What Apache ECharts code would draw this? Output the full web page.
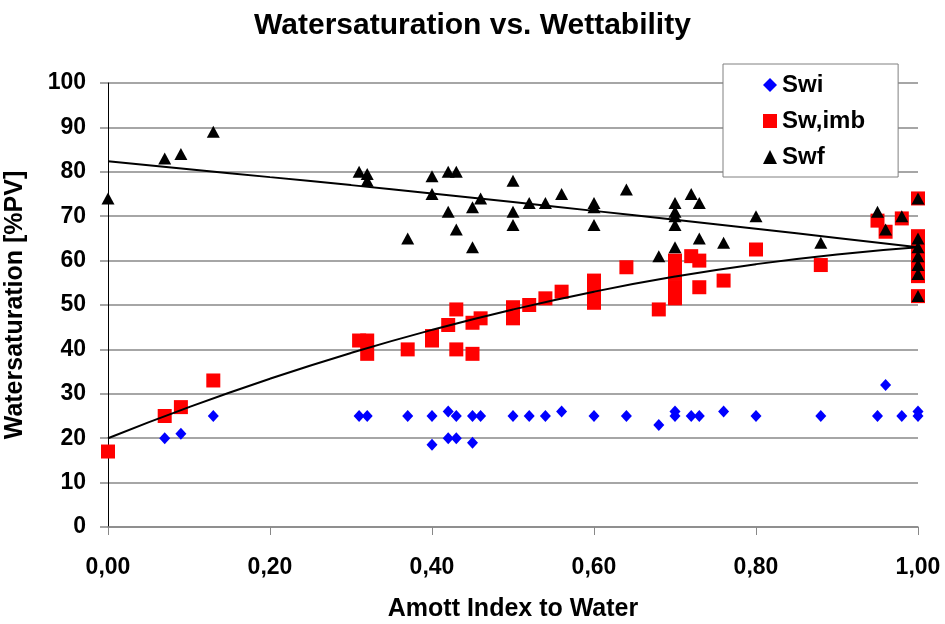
<!DOCTYPE html>
<html>
<head>
<meta charset="utf-8">
<script src="https://cdn.jsdelivr.net/npm/echarts@6/dist/echarts.min.js"></script>
<style>html,body{margin:0;padding:0;background:#fff;}#chart{width:945px;height:624px;}</style>
</head>
<body>
<div id="chart"></div>
<script>
// ---- data ----
var xTickLabels = ['0,00', '0,20', '0,40', '0,60', '0,80', '1,00'];
var yTickLabels = ['0', '10', '20', '30', '40', '50', '60', '70', '80', '90', '100'];

var swi = [[0.07,20],[0.09,21],[0.13,25],[0.31,25],[0.32,25],[0.37,25],[0.40,25],[0.40,18.5],[0.42,26],[0.43,25],[0.42,20],[0.43,20],[0.45,25],[0.45,19],[0.46,25],[0.50,25],[0.52,25],[0.54,25],[0.56,26],[0.60,25],[0.64,25],[0.68,23],[0.70,26],[0.70,25],[0.72,25],[0.73,25],[0.76,26],[0.80,25],[0.88,25],[0.95,25],[0.96,32],[0.98,25],[1.00,26],[1.00,25]];

var swImb = [[0,17],[0.07,25],[0.09,27],[0.13,33],[0.31,42],[0.32,42],[0.32,39],[0.37,40],[0.40,42],[0.40,43],[0.42,45.5],[0.43,49],[0.43,40],[0.45,46],[0.46,47],[0.45,39],[0.50,49.5],[0.50,47],[0.52,50],[0.54,51.5],[0.56,53],[0.60,55.5],[0.60,53],[0.60,50.5],[0.64,58.5],[0.68,49],[0.70,60],[0.70,57],[0.70,54],[0.70,51.5],[0.72,61],[0.73,60],[0.73,54],[0.76,55.5],[0.80,62.5],[0.88,59],[0.95,69],[0.96,66.5],[0.98,69.5],[1.00,74],[1.00,65.5],[1.00,63],[1.00,60.5],[1.00,58],[1.00,56.5],[1.00,52]];

var swf = [[0,74],[0.07,83],[0.09,84],[0.13,89],[0.31,80],[0.32,79.5],[0.32,78],[0.37,65],[0.40,79],[0.40,75],[0.42,80],[0.43,80],[0.42,71],[0.43,67],[0.45,72],[0.46,74],[0.45,63],[0.50,78],[0.50,71],[0.50,68],[0.52,73],[0.54,73],[0.56,75],[0.60,73],[0.60,72],[0.60,68],[0.64,76],[0.68,61],[0.70,73],[0.70,71],[0.70,70],[0.70,68],[0.70,63],[0.72,75],[0.73,73],[0.73,65],[0.76,64],[0.80,70],[0.88,64],[0.95,71],[0.96,67],[0.98,70],[1.00,74],[1.00,65],[1.00,63],[1.00,61],[1.00,59],[1.00,57],[1.00,52]];

// trend lines
var trendX = [0, 0.1, 0.2, 0.3, 0.4, 0.5, 0.6, 0.7, 0.8, 0.9, 1.0];
var trendSwf = [82.4, 80.6, 78.8, 77.0, 75.1, 73.2, 71.2, 69.2, 67.2, 65.1, 63.0];
var trendImb = [20.0, 27.0, 33.4, 39.2, 44.4, 49.0, 53.0, 56.4, 59.2, 61.4, 63.0];

function pairs(xs, ys) { return xs.map(function (x, i) { return [x, ys[i]]; }); }

var FONT = '"Liberation Sans", Arial, sans-serif';
var chart = echarts.init(document.getElementById('chart'), null, { renderer: 'canvas' });

chart.setOption({
  backgroundColor: '#ffffff',
  animation: false,
  textStyle: { fontFamily: FONT },
  title: {
    text: 'Watersaturation vs. Wettability',
    left: 'center',
    top: 6,
    textStyle: { fontFamily: FONT, fontWeight: 'bold', fontSize: 30, color: '#000' }
  },
  legend: {
    orient: 'vertical',
    left: 723,
    top: 64,
    padding: [9, 33, 8, 40],
    itemGap: 12,
    itemWidth: 14,
    itemHeight: 14,
    backgroundColor: '#ffffff',
    borderColor: '#808080',
    borderWidth: 1,
    data: ['Swi', 'Sw,imb', 'Swf'],
    textStyle: { fontFamily: FONT, fontWeight: 'bold', fontSize: 24, color: '#000' }
  },
  grid: { left: 108, right: 27, top: 83, bottom: 97, containLabel: false, outerBoundsMode: 'none' },
  xAxis: {
    type: 'value',
    min: 0, max: 1, interval: 0.2,
    name: 'Amott Index to Water',
    nameLocation: 'middle',
    nameGap: 70,
    nameTextStyle: { fontFamily: FONT, fontWeight: 'bold', fontSize: 25, color: '#000' },
    axisLine: { show: true, lineStyle: { color: '#888', width: 1.5 } },
    axisTick: { show: true, length: 8, lineStyle: { color: '#888' } },
    splitLine: { show: false },
    axisLabel: {
      margin: 29,
      fontFamily: FONT, fontWeight: 'bold', fontSize: 23, color: '#000',
      formatter: function (v) { return xTickLabels[Math.round(v / 0.2)]; }
    }
  },
  yAxis: {
    type: 'value',
    min: 0, max: 100, interval: 10,
    name: 'Watersaturation [%PV]',
    nameLocation: 'middle',
    nameGap: 80,
    nameRotate: 90,
    nameTextStyle: { fontFamily: FONT, fontWeight: 'bold', fontSize: 25, color: '#000' },
    axisLine: { show: true, lineStyle: { color: '#000', width: 1 } },
    axisTick: { show: true, length: 8, lineStyle: { color: '#888', width: 1.5 } },
    splitLine: { show: true, lineStyle: { color: '#888', width: 1.5 } },
    axisLabel: {
      margin: 22,
      fontFamily: FONT, fontWeight: 'bold', fontSize: 23, color: '#000',
      formatter: function (v) { return yTickLabels[Math.round(v / 10)]; }
    }
  },
  series: [
    { name: 'Swi', type: 'scatter', data: swi, symbol: 'diamond', symbolSize: [11, 12],
      itemStyle: { color: '#0000ff', opacity: 1 } },
    { name: 'Sw,imb', type: 'scatter', data: swImb, symbol: 'rect', symbolSize: 14,
      itemStyle: { color: '#ff0000', opacity: 1 } },
    { name: 'Swf', type: 'scatter', data: swf, symbol: 'triangle', symbolSize: [13, 12],
      itemStyle: { color: '#000000', opacity: 1 } },
    { name: 'trendSwf', type: 'line', data: pairs(trendX, trendSwf), smooth: true, showSymbol: false,
      symbol: 'none', lineStyle: { color: '#000', width: 2 }, z: 5 },
    { name: 'trendImb', type: 'line', data: pairs(trendX, trendImb), smooth: true, showSymbol: false,
      symbol: 'none', lineStyle: { color: '#000', width: 2 }, z: 5 }
  ]
});
</script>
</body>
</html>
